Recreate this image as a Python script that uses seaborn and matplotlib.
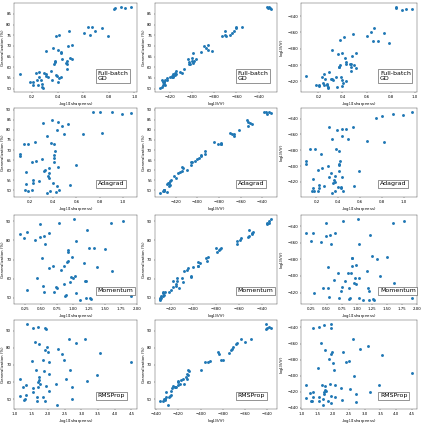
import seaborn as sns
import matplotlib.pyplot as plt

# optimizers shown in each row
optimizers = ['Full-batch\nGD', 'Adagrad', 'Momentum', 'RMSProp']

# Full-batch GD: -log10(sharpness), generalization (%), log10 V(f)
sharp_gd = [0.10, 0.18, 0.205, 0.205, 0.226, 0.239, 0.244, 0.249, 0.252, 0.27, 0.275, 0.283, 0.278, 0.291,
            0.304, 0.309, 0.322, 0.309, 0.348, 0.353, 0.361, 0.369, 0.374, 0.377, 0.382, 0.387, 0.392, 0.40,
            0.40, 0.408, 0.413, 0.421, 0.426, 0.431, 0.426, 0.465, 0.473, 0.47, 0.473, 0.483, 0.491, 0.499,
            0.509, 0.512, 0.608, 0.634, 0.652, 0.665, 0.693, 0.745, 0.79, 0.842, 0.847, 0.894, 0.927, 0.977]
gen_gd = [56.9, 53.3, 53.3, 51.9, 57.2, 54.1, 51.9, 58.0, 55.6, 53.8, 52.2, 50.3, 50.9, 57.2,
          56.9, 56.1, 55.6, 67.8, 58.1, 53.8, 68.9, 61.3, 62.3, 63.1, 74.5, 56.6, 55.8, 68.1,
          53.0, 54.8, 75.2, 67.0, 55.3, 63.9, 66.6, 61.9, 61.3, 63.1, 59.2, 69.8, 76.9, 64.2,
          70.2, 63.9, 76.1, 78.8, 75.2, 78.9, 77.0, 78.3, 74.4, 87.3, 87.8, 88.1, 87.8, 88.1]
vol_gd = [-414, -425, -425, -426, -414.7, -422, -424, -410.6, -417, -423.7, -424.5, -428.2, -427, -409,
          -416.7, -417.1, -418, -381.6, -414.3, -426.9, -386.9, -402, -402.4, -400, -369, -415, -418, -385.3,
          -425.7, -422, -365.7, -392, -420, -396.7, -399, -399.2, -402.4, -398.4, -407.3, -389, -362, -400,
          -385.3, -403.3, -364.1, -360, -370.6, -355.1, -370.6, -360.8, -373.1, -329, -330.3, -332.7, -331.8, -331]

# Adagrad
sharp_ada = [0.109, 0.109, 0.146, 0.186, 0.166, 0.166, 0.16, 0.18, 0.214, 0.223, 0.223, 0.217, 0.251,
             0.246, 0.274, 0.303, 0.314, 0.317, 0.331, 0.343, 0.343, 0.351, 0.36, 0.366, 0.366, 0.38,
             0.374, 0.389, 0.394, 0.403, 0.403, 0.409, 0.409, 0.417, 0.423, 0.429, 0.431, 0.437, 0.437,
             0.446, 0.474, 0.494, 0.531, 0.546, 0.594, 0.66, 0.746, 0.8, 0.817, 0.903, 0.994, 1.074]
gen_ada = [68.0, 67.2, 73.1, 73.0, 58.9, 53.1, 50.3, 49.5, 64.0, 55.3, 53.6, 50.0, 64.7,
           73.8, 54.8, 65.7, 83.4, 59.4, 59.9, 48.7, 77.1, 57.3, 58.6, 61.1, 56.4, 73.5,
           49.8, 85.0, 53.6, 73.0, 64.0, 66.0, 67.4, 69.3, 49.2, 52.0, 80.1, 61.4, 83.9,
           50.3, 81.7, 77.9, 83.1, 52.5, 62.4, 78.1, 88.7, 88.7, 78.4, 88.7, 88.0, 88.3]
vol_ada = [-393, -397, -378, -378, -416, -428, -431, -432, -405, -424, -427, -431, -402,
           -385, -425, -400, -351, -414, -409, -434, -366, -421, -418, -413, -420, -378,
           -431, -354, -426, -381, -406, -398, -397, -393, -428, -426, -362, -414, -353,
           -431, -353, -366, -350, -425, -406, -368, -339, -337, -370, -334, -336, -332]

# Momentum
sharp_mom = [0.167, 0.235, 0.286, 0.281, 0.41, 0.441, 0.488, 0.488, 0.519, 0.529, 0.545, 0.555, 0.571,
             0.622, 0.633, 0.684, 0.7, 0.736, 0.752, 0.777, 0.813, 0.855, 0.865, 0.875, 0.891, 0.901,
             0.917, 0.927, 0.927, 0.953, 0.968, 0.984, 0.994, 1.02, 1.036, 1.046, 1.046, 1.113, 1.175,
             1.186, 1.211, 1.227, 1.201, 1.253, 1.263, 1.279, 1.33, 1.382, 1.387, 1.501, 1.599, 1.614,
             1.78, 1.914]
gen_mom = [83.5, 81.1, 54.3, 84.4, 80.2, 60.6, 88.4, 82.0, 70.8, 56.1, 53.3, 82.3, 78.3,
           65.7, 83.9, 66.9, 52.9, 55.9, 55.0, 89.3, 64.7, 66.9, 57.3, 50.8, 51.5, 69.0,
           75.1, 74.1, 69.5, 58.2, 61.2, 71.6, 60.3, 91.0, 61.7, 79.7, 52.4, 48.9, 68.3,
           59.1, 58.7, 85.6, 49.8, 76.0, 50.0, 49.4, 76.0, 66.0, 53.3, 75.3, 89.3, 64.3,
           90.0, 51.2]
vol_mom = [-349, -358, -420, -348, -359, -414, -336, -352, -389, -415, -425, -351, -362,
           -405, -349, -396, -427, -418, -413, -334, -406, -396, -415, -428, -426, -396,
           -378, -379, -388, -409, -402, -387, -410, -332, -402, -362, -427, -429, -394,
           -414, -418, -351, -429, -376, -428, -429, -380, -400, -421, -377, -336, -408,
           -334, -427]

# RMSProp
sharp_rms = [1.149, 1.149, 1.249, 1.278, 1.318, 1.348, 1.348, 1.368, 1.527, 1.547, 1.547, 1.547, 1.626,
             1.646, 1.666, 1.666, 1.696, 1.696, 1.716, 1.726, 1.746, 1.746, 1.775, 1.845, 1.865, 1.895,
             1.915, 1.924, 1.944, 1.944, 1.924, 1.974, 1.994, 2.024, 2.044, 2.044, 2.243, 2.272, 2.312,
             2.412, 2.491, 2.541, 2.64, 2.66, 2.71, 2.72, 2.839, 3.16, 3.107, 3.455, 3.565, 4.5]
gen_rms = [61.8, 52.1, 57.4, 49.6, 50.2, 52.5, 58.3, 93.7, 72.3, 91.7, 56.4, 54.1, 83.6,
           67.1, 51.6, 49.0, 57.4, 59.9, 91.9, 82.2, 61.3, 63.2, 58.9, 51.6, 72.9, 66.5,
           78.7, 91.4, 90.8, 58.0, 49.0, 80.3, 77.8, 71.6, 64.6, 54.9, 58.7, 46.7, 79.3,
           76.4, 72.9, 61.8, 85.1, 67.1, 57.0, 50.0, 82.6, 60.9, 85.1, 64.2, 76.8, 71.5]
vol_rms = [-412, -428, -422, -432, -432, -427, -420, -341, -391, -340, -426, -431, -359.7,
           -411, -429, -436.4, -423, -420, -337.5, -367.7, -418, -413, -418.5, -431, -379.3, -410,
           -372.6, -336, -340.8, -425, -434, -370.6, -384.5, -393, -412, -427, -415, -429.6, -371,
           -383.4, -381.3, -416, -354, -400, -423, -433, -366.9, -420, -363.6, -411, -374, -396]

sharps = [sharp_gd, sharp_ada, sharp_mom, sharp_rms]
gens = [gen_gd, gen_ada, gen_mom, gen_rms]
vols = [vol_gd, vol_ada, vol_mom, vol_rms]

fig, axes = plt.subplots(4, 3, figsize=(15, 15))

# axes placement (figure fractions)
lefts = [0.033, 0.366, 0.712]
widths = [0.291, 0.288, 0.274]
bottoms = [0.7825, 0.534, 0.281, 0.033]
height = 0.210

sharp_label = r'-log$_{10}$(sharpness)'
vol_label = r'log$_{10}V(f)$'

for i in range(4):
    cols = [(sharps[i], gens[i], sharp_label, 'Generalization (%)'),
            (vols[i], gens[i], vol_label, 'Generalization (%)'),
            (sharps[i], vols[i], sharp_label, vol_label)]
    for j in range(3):
        ax = axes[i, j]
        x, y, xl, yl = cols[j]
        sns.scatterplot(x=x, y=y, ax=ax, s=55, linewidth=0, color='#1f77b4')
        ax.set_xlabel(xl, fontsize=10)
        ax.set_ylabel(yl, fontsize=10)
        ax.text(0.68, 0.12, optimizers[i], transform=ax.transAxes, fontsize=16,
                ha='left', va='bottom', bbox=dict(facecolor='white', edgecolor='0.3', linewidth=1.5))
        ax.set_position([lefts[j], bottoms[i], widths[j], height])

fig.savefig('out.png', dpi=28.2)
